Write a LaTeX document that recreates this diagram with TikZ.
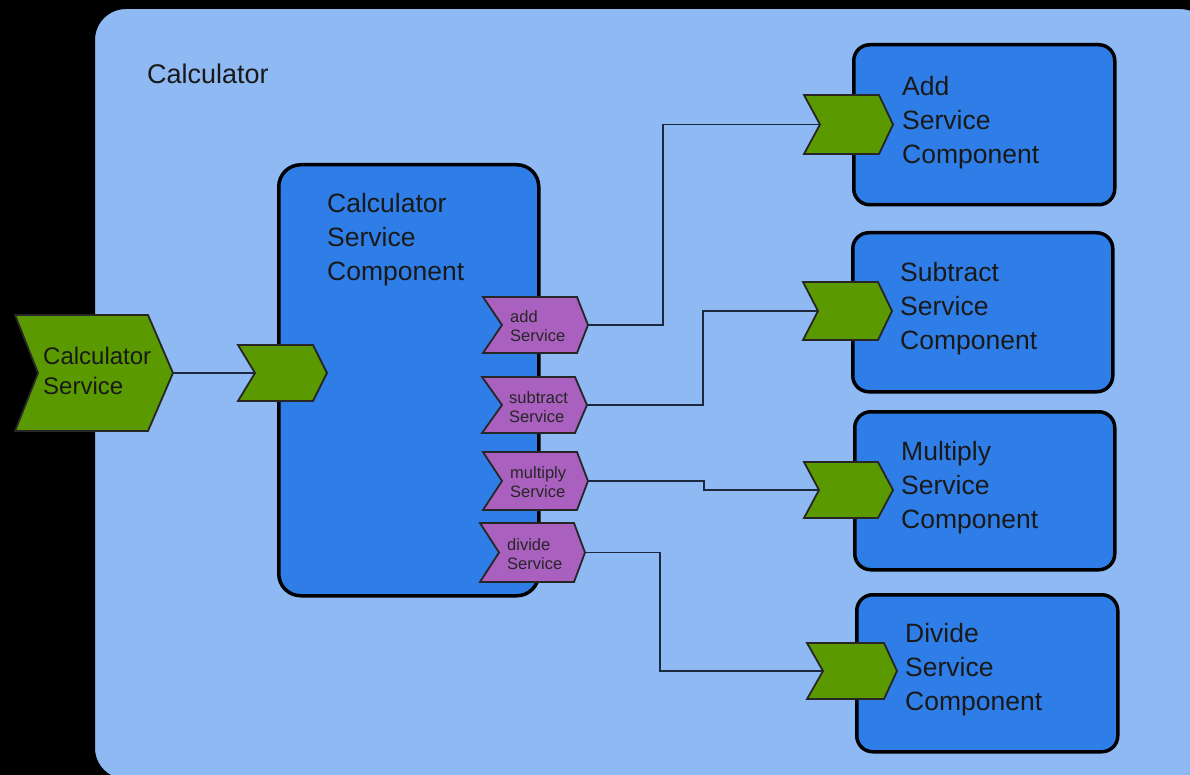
\documentclass[tikz,border=0pt]{standalone}
\usepackage{fontspec}
\setmainfont{Liberation Sans}

\definecolor{outerblue}{RGB}{143,185,242}
\definecolor{compblue}{RGB}{47,126,232}
\definecolor{svcgreen}{RGB}{90,154,0}
\definecolor{refpurple}{RGB}{170,96,190}
\definecolor{wirecol}{RGB}{27,40,62}

% Chevron: #1 name, #2 left x, #3 right x (corner), #4 top y, #5 bottom y,
% #6 notch depth, #7 tip depth, #8 style.  Defines #1-in and #1-out.
\newcommand{\chevshape}[8]{%
  \draw[#8] (#2,#4) -- (#3,#4) -- ({#3+#7},{(#4+#5)/2}) -- (#3,#5) -- (#2,#5)
    -- ({#2+#6},{(#4+#5)/2}) -- cycle;
  \coordinate (#1-in) at ({#2+#6},{(#4+#5)/2});
  \coordinate (#1-out) at ({#3+#7},{(#4+#5)/2});
}

\begin{document}
\begin{tikzpicture}[x=1pt,y=-1pt,
  comp/.style={draw=black, line width=3.5pt, fill=compblue, rounded corners=16pt,
    inner sep=0pt, anchor=north west},
  green/.style={draw=black!85, line width=1.8pt, fill=svcgreen, line join=miter},
  purple/.style={draw=black!85, line width=1.8pt, fill=refpurple, line join=miter},
  wire/.style={draw=wirecol, line width=1.8pt},
  biglabel/.style={anchor=west, align=left, inner sep=0pt, text=black!90,
    font=\fontsize{26.5}{34}\selectfont},
  svclabel/.style={anchor=west, align=left, inner sep=0pt, text=black!90,
    font=\fontsize{24}{30}\selectfont},
  reflabel/.style={anchor=west, align=left, inner sep=0pt, text=black!85,
    font=\fontsize{16.5}{18.5}\selectfont}]
\useasboundingbox (0,0) rectangle (1190,775);
\clip (0,0) rectangle (1190,775);
\fill[black] (0,0) rectangle (1190,775);

% composite
\draw[line width=2pt, fill=outerblue, rounded corners=32pt] (94,8) rectangle (1212,780);
\node[anchor=west, inner sep=0pt, font=\fontsize{27}{32}\selectfont, text=black!90]
  (calclabel) at (147,74) {Calculator};

% components
\node[comp, rounded corners=22pt, minimum width=260pt, minimum height=431pt] (calc) at (277,163) {};
\node[comp, minimum width=261pt, minimum height=160pt] (addc) at (852,43) {};
\node[comp, minimum width=260pt, minimum height=159pt] (subc) at (851,231) {};
\node[comp, minimum width=260pt, minimum height=158pt] (mulc) at (853,410) {};
\node[comp, minimum width=261pt, minimum height=157pt] (divc) at (855,593) {};

% services
\chevshape{calcsvc}{15}{148}{315}{431}{23}{25}{green}
\chevshape{calcin}{238}{313}{345}{401}{17}{14}{green}
\chevshape{addin}{804}{879}{95}{154}{16}{14}{green}
\chevshape{subin}{803}{878}{282}{340}{15}{14}{green}
\chevshape{mulin}{804}{878}{462}{518}{15}{15}{green}
\chevshape{divin}{807}{884}{643}{699}{16}{13}{green}

% references
\chevshape{addref}{483}{577}{297}{353}{19}{11}{purple}
\chevshape{subref}{482}{575}{377}{433}{20}{12}{purple}
\chevshape{mulref}{483}{577}{452}{510}{19}{11}{purple}
\chevshape{divref}{480}{574}{523}{582}{19}{11}{purple}

% wires
\draw[wire] (calcsvc-out) -- (calcin-in);
\draw[wire] (addref-out) -- ++(75,0) |- (addin-in);
\draw[wire] (subref-out) -- ++(116,0) |- (subin-in);
\draw[wire] (mulref-out) -- ++(116,0) |- (mulin-in);
\draw[wire] (divref-out) -- ++(75,0) |- (divin-in);

% labels
\node[biglabel] (calctext) at (327,240) {Calculator\\Service\\Component};
\node[biglabel] (addtext) at (902,123) {Add\\Service\\Component};
\node[biglabel] (subtext) at (900,309) {Subtract\\Service\\Component};
\node[biglabel] (multext) at (901,488) {Multiply\\Service\\Component};
\node[biglabel] (divtext) at (905,670) {Divide\\Service\\Component};
\node[svclabel] (svctext) at (43,371) {Calculator\\Service};
\node[reflabel] (addreftext) at (510,326) {add\\Service};
\node[reflabel] (subreftext) at (509,407) {subtract\\Service};
\node[reflabel] (mulreftext) at (510,482) {multiply\\Service};
\node[reflabel] (divreftext) at (507,554) {divide\\Service};
\end{tikzpicture}
\end{document}
